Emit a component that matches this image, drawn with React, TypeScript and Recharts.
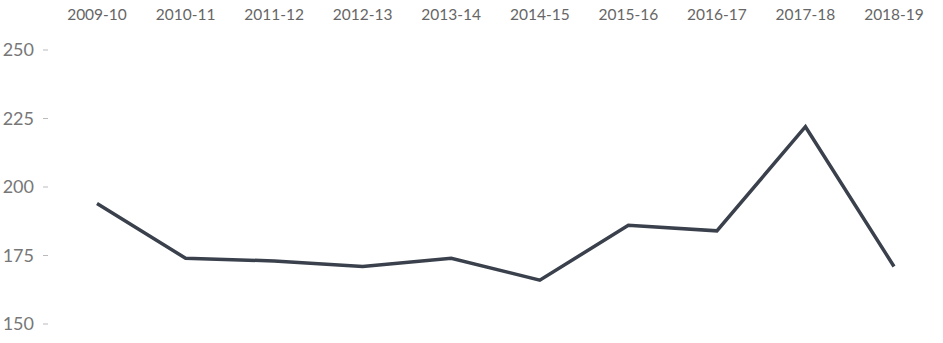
import { LineChart, Line, XAxis, YAxis } from 'recharts'

const seasons = ['2009-10', '2010-11', '2011-12', '2012-13', '2013-14', '2014-15', '2015-16', '2016-17', '2017-18', '2018-19']
const values = [194, 174, 173, 171, 174, 166, 186, 184, 222, 171]
const yTicks = [150, 175, 200, 225, 250]

const data = seasons.map((season, i) => ({ season, value: values[i] }))

const FONT = 'Lato, "Open Sans", sans-serif'

export default function App() {
  // pinned to the window corner so the y labels are not clipped by the body margin
  return (
    <div style={{ position: 'absolute', left: 0, top: 0, width: 943, height: 343, fontFamily: FONT }}>
      <LineChart
        width={943}
        height={343}
        data={data}
        margin={{ top: 0, right: 0, bottom: 19, left: 0 }}
        style={{ overflow: 'visible' }}
      >
        <XAxis
          dataKey="season"
          orientation="top"
          height={50}
          axisLine={false}
          tickLine={false}
          tickSize={0}
          tickMargin={30}
          interval={0}
          padding={{ left: 49, right: 49 }}
          tick={{ fill: '#666', fontSize: 15.5, fontFamily: FONT }}
        />
        <YAxis
          width={48}
          domain={[150, 250]}
          ticks={yTicks}
          axisLine={false}
          tickSize={5}
          tickMargin={9}
          tickLine={{ stroke: '#bbb' }}
          tick={{ fill: '#777', fontSize: 18, fontFamily: FONT }}
        />
        <Line
          type="linear"
          dataKey="value"
          stroke="#3a414c"
          strokeWidth={3.5}
          dot={false}
          activeDot={false}
          isAnimationActive={false}
        />
      </LineChart>
    </div>
  )
}
